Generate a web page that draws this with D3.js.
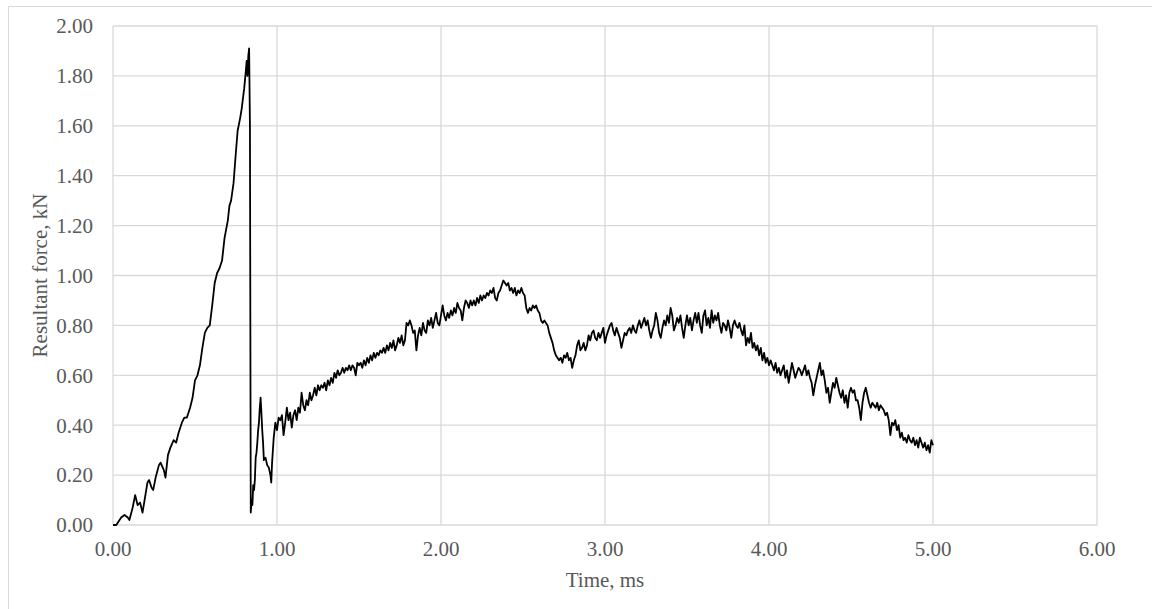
<!DOCTYPE html>
<html>
<head>
  <meta charset="utf-8">
  <title>Resultant force vs time</title>
  <script src="https://cdn.jsdelivr.net/npm/d3@7/dist/d3.min.js"></script>
  <style>
    body { margin: 0; background: #fff; }
    text { font-family: "Liberation Serif", "Times New Roman", serif; fill: #595959; }
  </style>
</head>
<body>
  <svg id="chart" width="1152" height="609"></svg>
  <script>
    // data: [time ms, force kN]
    const rampUp = [
      [0.00,0.00],[0.02,0.00],[0.03,0.01],[0.05,0.03],[0.07,0.04],[0.09,0.03],[0.10,0.02],[0.12,0.07],
      [0.135,0.12],[0.15,0.08],[0.165,0.09],[0.18,0.05],[0.19,0.09],[0.21,0.17],[0.22,0.18],[0.235,0.15],
      [0.245,0.14],[0.26,0.19],[0.28,0.24],[0.29,0.25],[0.31,0.22],[0.32,0.19],[0.335,0.28],[0.35,0.31],
      [0.37,0.34],[0.385,0.33],[0.40,0.37],[0.42,0.41],[0.435,0.43],[0.45,0.43],[0.47,0.47],[0.485,0.51],
      [0.50,0.58],[0.515,0.60],[0.53,0.64],[0.545,0.71],[0.56,0.77],[0.575,0.79],[0.59,0.80],[0.605,0.88],
      [0.62,0.97],[0.635,1.01],[0.65,1.03],[0.665,1.06],[0.68,1.15],[0.70,1.22],[0.71,1.28],[0.72,1.30],
      [0.735,1.37],[0.75,1.50],[0.76,1.58],[0.775,1.63],[0.785,1.67],[0.80,1.75],[0.81,1.82],[0.815,1.86],
      [0.82,1.80],[0.825,1.88],[0.83,1.91]
    ];

    const collapse = [
      [0.835,1.60],[0.84,0.05],[0.845,0.10],[0.85,0.08],[0.855,0.16],[0.86,0.14],[0.865,0.18],[0.87,0.27],
      [0.875,0.29],[0.88,0.33],[0.885,0.38],[0.89,0.41],[0.895,0.47],[0.90,0.51],[0.905,0.45],[0.91,0.38],
      [0.915,0.33],[0.92,0.26],[0.93,0.27],[0.94,0.24],[0.95,0.23],[0.96,0.20],[0.965,0.17],[0.97,0.25],
      [0.98,0.35],[0.99,0.41]
    ];

    const recovery = [
      [1.00,0.38],[1.01,0.43],[1.02,0.42],[1.03,0.44],[1.04,0.36],[1.05,0.41],[1.06,0.47],[1.07,0.42],
      [1.08,0.45],[1.09,0.39],[1.10,0.44],[1.11,0.46],[1.12,0.42],[1.13,0.47],[1.14,0.45],[1.15,0.53],
      [1.16,0.48],[1.17,0.46],[1.18,0.50],[1.19,0.48],[1.20,0.53],[1.21,0.50],[1.22,0.52],[1.23,0.55],
      [1.24,0.52],[1.25,0.56],[1.26,0.54],[1.27,0.56],[1.28,0.55],[1.29,0.57],[1.30,0.54],[1.31,0.58],
      [1.32,0.56],[1.33,0.59],[1.34,0.57],[1.35,0.61],[1.36,0.59],[1.37,0.62],[1.38,0.60],[1.39,0.61],
      [1.40,0.63],[1.41,0.61],[1.42,0.63],[1.43,0.62],[1.44,0.64],[1.45,0.62],[1.46,0.64],[1.47,0.63],
      [1.48,0.60],[1.49,0.65],[1.50,0.64],[1.51,0.65],[1.52,0.63],[1.53,0.66],[1.54,0.64],[1.55,0.67],
      [1.56,0.65],[1.57,0.68],[1.58,0.66],[1.59,0.69],[1.60,0.67],[1.61,0.69],[1.62,0.68],[1.63,0.70],
      [1.64,0.69],[1.65,0.71],[1.66,0.69],[1.67,0.72],[1.68,0.70],[1.69,0.73],[1.70,0.71],[1.71,0.74],
      [1.72,0.70],[1.73,0.72],[1.74,0.75],[1.75,0.73],[1.76,0.76],[1.77,0.72],[1.78,0.74],[1.79,0.81],
      [1.80,0.80],[1.81,0.82],[1.82,0.80],[1.83,0.77],[1.84,0.78],[1.85,0.70],[1.86,0.76],[1.87,0.79],
      [1.88,0.76],[1.89,0.81],[1.90,0.78],[1.91,0.77],[1.92,0.82],[1.93,0.80],[1.94,0.83],[1.95,0.79],
      [1.96,0.82],[1.97,0.85],[1.98,0.81],[1.99,0.80],[2.00,0.84],[2.01,0.88],[2.02,0.84],[2.03,0.82],
      [2.04,0.85],[2.05,0.83],[2.06,0.86],[2.07,0.84],[2.08,0.87],[2.09,0.85],[2.10,0.89],[2.11,0.87],
      [2.12,0.86],[2.13,0.82],[2.14,0.87],[2.15,0.90],[2.16,0.89],[2.17,0.87],[2.18,0.90],[2.19,0.88],
      [2.20,0.90],[2.21,0.88],[2.22,0.91],[2.23,0.89],[2.24,0.92],[2.25,0.90],[2.26,0.92],[2.27,0.91],
      [2.28,0.93],[2.29,0.92],[2.30,0.94],[2.31,0.93],[2.32,0.95],[2.33,0.91],[2.34,0.90],[2.35,0.93],
      [2.36,0.94],[2.37,0.96],[2.38,0.98],[2.39,0.97],[2.40,0.96],[2.41,0.97],[2.42,0.94],[2.43,0.95],
      [2.44,0.93],[2.45,0.95],[2.46,0.92],[2.47,0.94],[2.48,0.93],[2.49,0.95],[2.50,0.93]
    ];

    const dip = [
      [2.51,0.92],[2.52,0.87],[2.53,0.85],[2.54,0.87],[2.55,0.86],[2.56,0.88],[2.57,0.87],[2.58,0.88],
      [2.59,0.86],[2.60,0.85],[2.61,0.82],[2.62,0.81],[2.63,0.82],[2.64,0.81],[2.65,0.80],[2.66,0.77],
      [2.67,0.75],[2.68,0.73],[2.69,0.70],[2.70,0.68],[2.71,0.67],[2.72,0.66],[2.73,0.67],[2.74,0.65],
      [2.75,0.68],[2.76,0.67],[2.77,0.69],[2.78,0.66],[2.79,0.67],[2.80,0.63],[2.81,0.66],[2.82,0.68],
      [2.83,0.72],[2.84,0.74],[2.85,0.70]
    ];

    const plateau = [
      [2.86,0.71],[2.87,0.73],[2.88,0.70],[2.89,0.72],[2.90,0.76],[2.91,0.74],[2.92,0.77],[2.93,0.78],
      [2.94,0.75],[2.95,0.74],[2.96,0.77],[2.97,0.75],[2.98,0.77],[2.99,0.79],[3.00,0.73],[3.01,0.76],
      [3.02,0.78],[3.03,0.80],[3.04,0.81],[3.05,0.78],[3.06,0.76],[3.07,0.79],[3.08,0.77],[3.09,0.75],
      [3.10,0.71],[3.11,0.74],[3.12,0.77],[3.13,0.76],[3.14,0.78],[3.15,0.79],[3.16,0.77],[3.17,0.80],
      [3.18,0.78],[3.19,0.77],[3.20,0.80],[3.21,0.82],[3.22,0.79],[3.23,0.81],[3.24,0.83],[3.25,0.80],
      [3.26,0.82],[3.27,0.78],[3.28,0.75],[3.29,0.78],[3.30,0.80],[3.31,0.85],[3.32,0.82],[3.33,0.77],
      [3.34,0.75],[3.35,0.79],[3.36,0.82],[3.37,0.80],[3.38,0.84],[3.39,0.81],[3.40,0.87],[3.41,0.84],
      [3.42,0.78],[3.43,0.80],[3.44,0.83],[3.45,0.81],[3.46,0.84],[3.47,0.79],[3.48,0.75],[3.49,0.80],
      [3.50,0.84],[3.51,0.80],[3.52,0.83],[3.53,0.78],[3.54,0.82],[3.55,0.85],[3.56,0.81],[3.57,0.85],
      [3.58,0.80],[3.59,0.77],[3.60,0.84],[3.61,0.86],[3.62,0.80],[3.63,0.83],[3.64,0.79],[3.65,0.86],
      [3.66,0.81],[3.67,0.84],[3.68,0.82],[3.69,0.85],[3.70,0.80],[3.71,0.77],[3.72,0.81],[3.73,0.80],
      [3.74,0.78],[3.75,0.82],[3.76,0.79],[3.77,0.75],[3.78,0.80],[3.79,0.82],[3.80,0.80]
    ];

    const decay = [
      [3.81,0.79],[3.82,0.81],[3.83,0.78],[3.84,0.76],[3.85,0.80],[3.86,0.72],[3.87,0.75],[3.88,0.73],
      [3.89,0.77],[3.90,0.71],[3.91,0.73],[3.92,0.70],[3.93,0.72],[3.94,0.68],[3.95,0.71],[3.96,0.66],
      [3.97,0.69],[3.98,0.65],[3.99,0.67],[4.00,0.64],[4.01,0.66],[4.02,0.64],[4.03,0.62],[4.04,0.65],
      [4.05,0.61],[4.06,0.63],[4.07,0.60],[4.08,0.62],[4.09,0.64],[4.10,0.59],[4.11,0.62],[4.12,0.57],
      [4.13,0.61],[4.14,0.65],[4.15,0.62],[4.16,0.59],[4.17,0.61],[4.18,0.63],[4.19,0.62],[4.20,0.60],
      [4.21,0.62],[4.22,0.64],[4.23,0.60],[4.24,0.62],[4.25,0.59],[4.26,0.57],[4.27,0.52],[4.28,0.56],
      [4.29,0.59],[4.30,0.62],[4.31,0.65],[4.32,0.60],[4.33,0.62],[4.34,0.58],[4.35,0.53],[4.36,0.55],
      [4.37,0.49],[4.38,0.53],[4.39,0.57],[4.40,0.55],[4.41,0.59],[4.42,0.56],[4.43,0.53],[4.44,0.51],
      [4.45,0.54],[4.46,0.49],[4.47,0.52],[4.48,0.47],[4.49,0.53],[4.50,0.55],[4.51,0.53],[4.52,0.54],
      [4.53,0.50],[4.54,0.50],[4.55,0.47],[4.56,0.42],[4.57,0.49],[4.58,0.53],[4.59,0.55],[4.60,0.52],
      [4.61,0.49],[4.62,0.47],[4.63,0.49],[4.64,0.48],[4.65,0.47],[4.66,0.49],[4.67,0.46],[4.68,0.48],
      [4.69,0.47],[4.70,0.46],[4.71,0.44],[4.72,0.45],[4.73,0.42],[4.74,0.36],[4.75,0.41],[4.76,0.40],
      [4.77,0.42],[4.78,0.38],[4.79,0.40],[4.80,0.35],[4.81,0.37],[4.82,0.34],[4.83,0.35],[4.84,0.33],
      [4.85,0.36],[4.86,0.34],[4.87,0.33],[4.88,0.35],[4.89,0.32],[4.90,0.34],[4.91,0.31],[4.92,0.35],
      [4.93,0.33],[4.94,0.31],[4.95,0.33],[4.96,0.30],[4.97,0.32],[4.98,0.29],[4.99,0.34],[5.00,0.32]
    ];

    const xTicks = [0, 1, 2, 3, 4, 5, 6];
    const yTicks = [0, 0.2, 0.4, 0.6, 0.8, 1.0, 1.2, 1.4, 1.6, 1.8, 2.0];
    const xTitle = 'Time, ms';
    const yTitle = 'Resultant force, kN';

    const series = rampUp.concat(collapse, recovery, dip, plateau, decay);

    const svg = d3.select('#chart');

    // outer chart frame
    svg.append('rect')
      .attr('x', 8.5).attr('y', 6.5)
      .attr('width', 1160).attr('height', 620)
      .attr('fill', 'none').attr('stroke', '#d9d9d9').attr('stroke-width', 1);

    const x = d3.scaleLinear().domain([0, 6]).range([113, 1097]);
    const y = d3.scaleLinear().domain([0, 2]).range([525, 26]);

    // grid
    svg.append('g').selectAll('line').data(yTicks).join('line')
      .attr('x1', x(0)).attr('x2', x(6))
      .attr('y1', d => y(d)).attr('y2', d => y(d))
      .attr('stroke', '#d9d9d9').attr('stroke-width', 1.3);
    svg.append('g').selectAll('line').data(xTicks).join('line')
      .attr('x1', d => x(d)).attr('x2', d => x(d))
      .attr('y1', y(0)).attr('y2', y(2))
      .attr('stroke', '#d9d9d9').attr('stroke-width', 1.3);

    // tick labels
    svg.append('g').selectAll('text').data(yTicks).join('text')
      .attr('x', 93).attr('y', d => y(d))
      .attr('dy', '0.35em')
      .attr('text-anchor', 'end')
      .style('font-size', '21px')
      .text(d => d3.format('.2f')(d));
    svg.append('g').selectAll('text').data(xTicks).join('text')
      .attr('x', d => x(d)).attr('y', 556)
      .attr('text-anchor', 'middle')
      .style('font-size', '21px')
      .text(d => d3.format('.2f')(d));

    // axis titles
    svg.append('text')
      .attr('x', 605).attr('y', 587)
      .attr('text-anchor', 'middle')
      .style('font-size', '21px')
      .text(xTitle);
    svg.append('text')
      .attr('transform', 'translate(47,275.5) rotate(-90)')
      .attr('text-anchor', 'middle')
      .style('font-size', '21px')
      .text(yTitle);

    // the curve
    const line = d3.line().x(d => x(d[0])).y(d => y(d[1]));
    svg.append('path')
      .datum(series)
      .attr('d', line)
      .attr('fill', 'none')
      .attr('stroke', '#000')
      .attr('stroke-width', 1.8)
      .attr('stroke-linejoin', 'round');
  </script>
</body>
</html>
